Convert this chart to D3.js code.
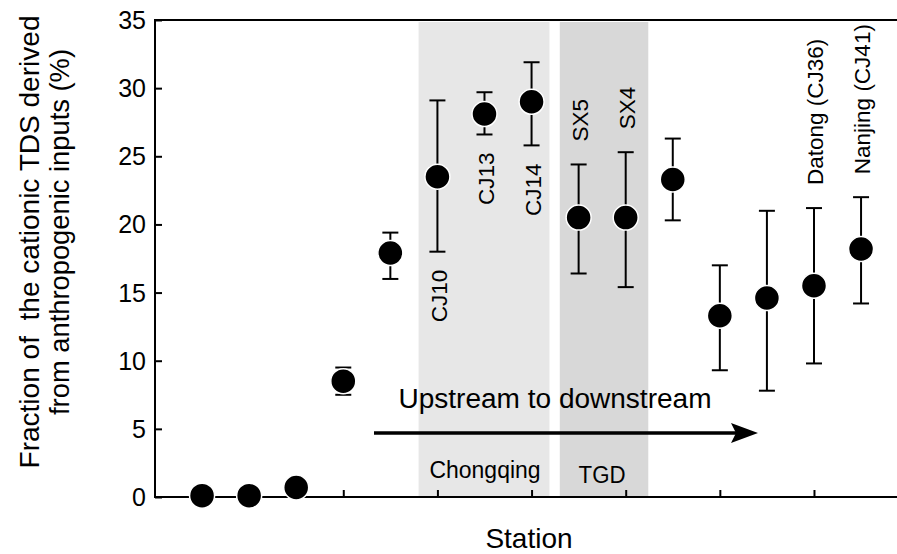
<!DOCTYPE html>
<html><head><meta charset="utf-8">
<script src="https://cdn.jsdelivr.net/npm/d3@7"></script>
<style>body{margin:0;background:#fff}svg{display:block}text{font-family:"Liberation Sans",Arial,sans-serif;fill:#000;white-space:pre}</style>
</head><body><svg id="c" width="897" height="554"></svg>
<script>
// ---- data ----
const stations = ["S1","S2","S3","S4","S5","CJ10","CJ13","CJ14","SX5","SX4","S11","S12","S13","Datong (CJ36)","Nanjing (CJ41)"];
const labels   = ["","","","","","CJ10","CJ13","CJ14","SX5","SX4","","","","Datong (CJ36)","Nanjing (CJ41)"];
const labelSide= ["","","","","","below","below","below","above","above","","","","above","above"];
const means    = [0.1, 0.1, 0.7, 8.5, 17.9, 23.5, 28.1, 29.0, 20.5, 20.5, 23.3, 13.3, 14.6, 15.5, 18.2];
const upper    = [null,null,null, 9.5, 19.4, 29.1, 29.7, 31.9, 24.4, 25.3, 26.3, 17.0, 21.0, 21.2, 22.0];
const lower    = [null,null,null, 7.5, 16.0, 18.0, 26.6, 25.8, 16.4, 15.4, 20.3, 9.3, 7.8, 9.8, 14.2];
const yTicks   = [0,5,10,15,20,25,30,35];
const xTicks   = [1,3,5,7,9,11,13];
const regionNames = ["Chongqing","TGD"];
const regionFrom  = [4.6, 7.6];
const regionTo    = [7.38, 9.48];

const svg = d3.select("#c");
const L=155, R=897, T=20, B=497;
const x = d3.scaleLinear().domain([-1,15]).range([L, L+16*47.07]);
const y = d3.scaleLinear().domain([0,35]).range([B,T]);

// regions
const regionFill = ["#e7e7e7","#d8d8d8"];
regionNames.forEach((n,i)=>{
  svg.append("rect").attr("x",x(regionFrom[i])).attr("y",T+2)
    .attr("width",x(regionTo[i])-x(regionFrom[i])).attr("height",B-T-2)
    .attr("fill",regionFill[i]);
});
svg.append("text").attr("x",(x(regionFrom[0])+x(regionTo[0]))/2+1).attr("y",478)
  .attr("text-anchor","middle").attr("font-size",23).attr("textLength",111).attr("lengthAdjust","spacingAndGlyphs").text(regionNames[0]);
svg.append("text").attr("x",(x(regionFrom[1])+x(regionTo[1]))/2-2).attr("y",483)
  .attr("text-anchor","middle").attr("font-size",23).attr("textLength",47).attr("lengthAdjust","spacingAndGlyphs").text(regionNames[1]);

// frame: top line
svg.append("line").attr("x1",L).attr("x2",R).attr("y1",T).attr("y2",T).attr("stroke","#000").attr("stroke-width",2);

// axes
const yAxis = d3.axisRight(y).tickValues(yTicks).tickSize(7).tickFormat("");
const gy = svg.append("g").attr("transform",`translate(${L},0)`).call(yAxis);
gy.select(".domain").remove();
gy.selectAll("line").attr("stroke","#000").attr("stroke-width",2);
svg.append("line").attr("x1",L).attr("x2",L).attr("y1",T-1).attr("y2",B+1).attr("stroke","#000").attr("stroke-width",2);
svg.selectAll(".ytl").data(yTicks).enter().append("text").attr("class","ytl")
  .attr("x",146).attr("y",d=>y(d)).attr("dy","0.36em").attr("text-anchor","end")
  .attr("font-size",25).text(d=>d);

const xAxis = d3.axisTop(x).tickValues(xTicks).tickSize(7).tickFormat("");
const gx = svg.append("g").attr("transform",`translate(0,${B})`).call(xAxis);
gx.select(".domain").remove();
gx.selectAll("line").attr("stroke","#000").attr("stroke-width",2);
svg.append("line").attr("x1",L-1).attr("x2",R).attr("y1",B).attr("y2",B).attr("stroke","#000").attr("stroke-width",2);

// arrow
svg.append("line").attr("x1",374).attr("x2",740).attr("y1",433).attr("y2",433).attr("stroke","#000").attr("stroke-width",3.5);
svg.append("path").attr("d","M758,433 L731,423 L736,433 L731,443 Z").attr("fill","#000");
svg.append("text").attr("x",555).attr("y",408).attr("text-anchor","middle").attr("font-size",27)
  .attr("textLength",313).attr("lengthAdjust","spacingAndGlyphs").text("Upstream to downstream");

// error bars
const idx = d3.range(stations.length).filter(i=>upper[i]!=null);
const eb = svg.append("g").attr("stroke","#000").attr("stroke-width",2);
idx.forEach(i=>{
  eb.append("line").attr("x1",x(i)).attr("x2",x(i)).attr("y1",y(upper[i])).attr("y2",y(lower[i]));
  eb.append("line").attr("x1",x(i)-8).attr("x2",x(i)+8).attr("y1",y(upper[i])).attr("y2",y(upper[i]));
  eb.append("line").attr("x1",x(i)-8).attr("x2",x(i)+8).attr("y1",y(lower[i])).attr("y2",y(lower[i]));
});

// points
svg.selectAll(".pt").data(means).enter().append("circle").attr("class","pt")
  .attr("cx",(d,i)=>x(i)).attr("cy",d=>y(d)).attr("r",12.5)
  .attr("fill","#000").attr("stroke","#fff").attr("stroke-width",1.5);

// station labels
labels.forEach((t,i)=>{
  if(!t) return;
  const below = labelSide[i]==="below";
  const yy = below ? y(lower[i])+18 : y(upper[i])-23;
  svg.append("text").attr("transform",`translate(${x(i)+1},${yy}) rotate(-90)`)
    .attr("text-anchor", below?"end":"start").attr("dy","0.36em")
    .attr("font-size",22.5).text(t);
});

// axis titles
svg.append("text").attr("transform","translate(39,242) rotate(-90)").attr("text-anchor","middle")
  .attr("font-size",28).attr("textLength",453).attr("lengthAdjust","spacingAndGlyphs").text("Fraction of  the cationic TDS derived");
svg.append("text").attr("transform","translate(69,232) rotate(-90)").attr("text-anchor","middle")
  .attr("font-size",28).attr("textLength",366).attr("lengthAdjust","spacingAndGlyphs").text("from anthropogenic inputs (%)");
svg.append("text").attr("x",529).attr("y",548).attr("text-anchor","middle").attr("font-size",28).text("Station");
</script></body></html>
